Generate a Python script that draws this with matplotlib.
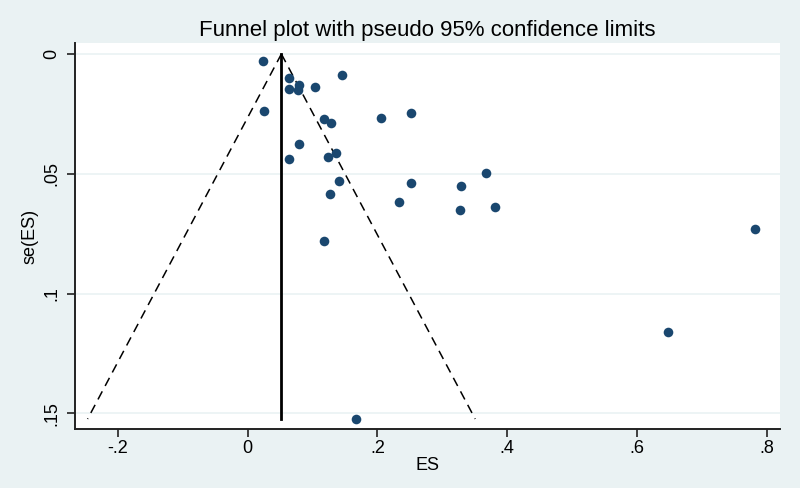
import numpy as np
import matplotlib
matplotlib.use("Agg")
import matplotlib.pyplot as plt

plt.rcParams['font.family'] = ['Liberation Sans', 'DejaVu Sans']

# Study effect sizes and standard errors
es = [0.024, 0.145, 0.064, 0.079, 0.063, 0.077, 0.104, 0.025, 0.118, 0.129,
      0.205, 0.251, 0.079, 0.064, 0.124, 0.136, 0.141, 0.127, 0.118, 0.252,
      0.234, 0.329, 0.367, 0.328, 0.381, 0.782, 0.648, 0.167]
se = [0.0028, 0.0088, 0.0101, 0.0129, 0.0147, 0.0150, 0.0137, 0.0238, 0.0273, 0.0287,
      0.0268, 0.0245, 0.0376, 0.0440, 0.0431, 0.0415, 0.0529, 0.0585, 0.0780, 0.0540,
      0.0617, 0.0550, 0.0498, 0.0651, 0.0638, 0.0731, 0.1159, 0.1524]
pooled = 0.052
se_max = 0.1524

xticks = [-0.2, 0, 0.2, 0.4, 0.6, 0.8]
xticklabels = ["-.2", "0", ".2", ".4", ".6", ".8"]
yticks = [0, 0.05, 0.1, 0.15]
yticklabels = ["0", ".05", ".1", ".15"]

bg = "#eaf2f3"
fig = plt.figure(figsize=(8, 4.88), dpi=100, facecolor=bg)
ax = fig.add_axes([0.094, 0.1203, 0.881, 0.7916])
ax.set_facecolor("white")

ax.set_xlim(-0.2658, 0.8205)
ax.set_ylim(0.1567, -0.0046)

for y in yticks:
    ax.axhline(y, color=bg, lw=1.2, zorder=0)

# funnel limits
s = np.array([0, se_max])
ax.plot(pooled - 1.96 * s, s, color="black", lw=1.1, ls=(0, (6, 4)), zorder=2)
ax.plot(pooled + 1.96 * s, s, color="black", lw=1.1, ls=(0, (6, 4)), zorder=2)
ax.plot([pooled, pooled], [0, se_max], color="black", lw=2.0, zorder=2)

ax.scatter(es, se, s=48, color="#1a476f", zorder=3, linewidths=0)

for sp in ["top", "right"]:
    ax.spines[sp].set_visible(False)
for sp in ["left", "bottom"]:
    ax.spines[sp].set_linewidth(1.4)
    ax.spines[sp].set_color("#222222")

ax.set_xticks(xticks)
ax.set_xticklabels(xticklabels, fontsize=13)
ax.set_yticks(yticks)
ax.set_yticklabels(yticklabels, fontsize=13, rotation=90, va="center")
ax.tick_params(axis="both", direction="out", length=6, width=1.2, color="#222222", pad=2)
ax.tick_params(axis="y", pad=5)

ax.set_xlabel("ES", fontsize=13, labelpad=0)
ax.set_ylabel("se(ES)", fontsize=13, labelpad=3)
ax.set_title("Funnel plot with pseudo 95% confidence limits", fontsize=16, pad=5)

fig.savefig("out.png", dpi=100, facecolor=bg)
